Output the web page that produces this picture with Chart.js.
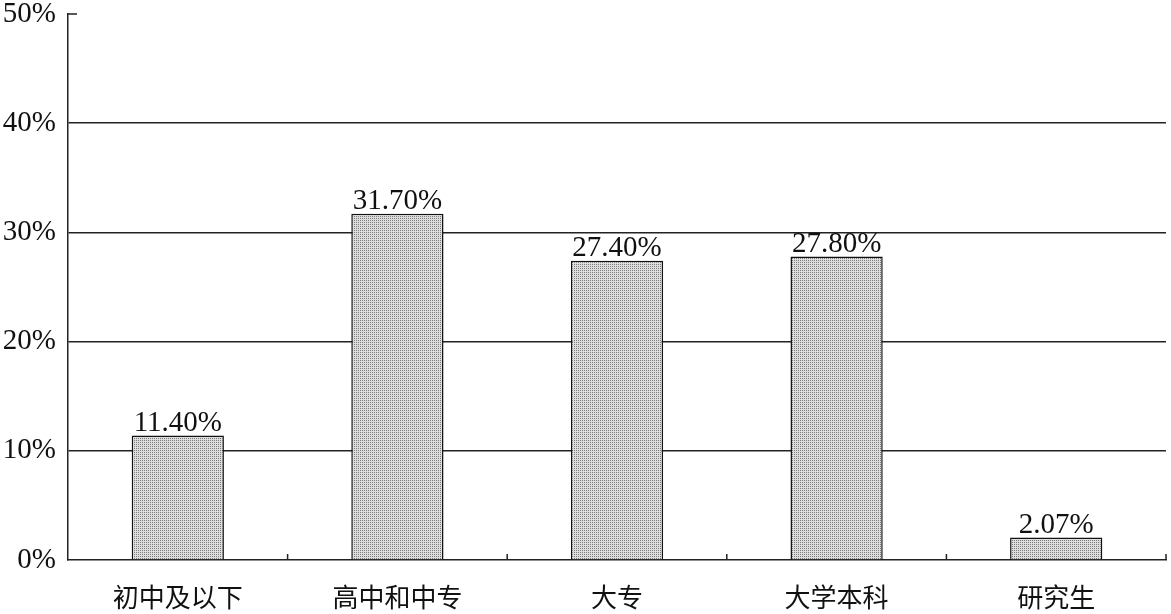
<!DOCTYPE html>
<html>
<head>
<meta charset="utf-8">
<script src="https://cdn.jsdelivr.net/npm/chart.js@4"></script>
<style>
  body { margin: 0; background: #fff; }
  #wrap { width: 1171px; height: 614px; }
</style>
</head>
<body>
<div id="wrap"><canvas id="chart" width="1171" height="614"></canvas></div>
<script>
const categories = ["初中及以下", "高中和中专", "大专", "大学本科", "研究生"];
const shares = [11.40, 31.70, 27.40, 27.80, 2.07];
const shareLabels = ["11.40%", "31.70%", "27.40%", "27.80%", "2.07%"];
const yTicks = [0, 10, 20, 30, 40, 50];

// dotted grey fill like the printed screen tone
function dotPattern(){
    const c = document.createElement("canvas");
    c.width = 2; c.height = 2;
    const g = c.getContext("2d");
    g.fillStyle = "#dedede";
    g.fillRect(0, 0, 2, 2);
    g.fillStyle = "#7a7a7a";
    g.fillRect(0, 0, 1, 1);
    return g.createPattern(c, "repeat");
}

const ctx = document.getElementById("chart").getContext("2d");

// small axis ticks: 50% tick to the right, category dividers on the baseline
const axisMarks = {
    id: "axisMarks",
    afterDraw(chart){
        const c = chart.ctx, x = chart.scales.x, y = chart.scales.y;
        const area = chart.chartArea;
        c.save();
        c.strokeStyle = "#222";
        c.lineWidth = 1.5;
        const y50 = y.getPixelForValue(50);
        c.beginPath();
        c.moveTo(area.left, y50);
        c.lineTo(area.left + 9, y50);
        const base = y.getPixelForValue(0);
        for(let i = 0; i < categories.length; i++){
            const bx = i < categories.length - 1
                ? (x.getPixelForValue(i) + x.getPixelForValue(i + 1)) / 2
                : area.right;
            c.moveTo(bx, base);
            c.lineTo(bx, base - 6);
        }
        c.stroke();
        c.restore();
    }
};

const valueLabels = {
    id: "valueLabels",
    afterDatasetsDraw(chart){
        const c = chart.ctx;
        const meta = chart.getDatasetMeta(0);
        c.save();
        c.fillStyle = "#111";
        c.font = "29px 'Liberation Serif', 'DejaVu Serif', serif";
        c.textAlign = "center";
        c.textBaseline = "bottom";
        meta.data.forEach((bar, i) => {
            c.fillText(shareLabels[i], bar.x, bar.y + 2);
        });
        c.restore();
    }
};

new Chart(ctx, {
    type: "bar",
    data: {
        labels: categories,
        datasets: [{
            data: shares,
            backgroundColor: dotPattern(),
            borderColor: "#111",
            borderWidth: 1.5,
            barPercentage: 0.42,
            categoryPercentage: 1
        }]
    },
    options: {
        responsive: false,
        animation: false,
        devicePixelRatio: 1,
        layout: { padding: { top: 14, right: 5, left: 0, bottom: 0 } },
        plugins: { legend: { display: false }, tooltip: { enabled: false } },
        scales: {
            x: {
                grid: { display: false },
                border: { display: true, color: "#222", width: 1.5 },
                ticks: {
                    color: "#111",
                    padding: 14,
                    font: { family: "'Noto Sans CJK SC', sans-serif", size: 26 }
                },
                afterFit(scale){ scale.height = 54; }
            },
            y: {
                min: 0,
                max: 50,
                afterBuildTicks(scale){ scale.ticks = yTicks.map(v => ({ value: v })); },
                grid: {
                    color: c => (c.tick && (c.tick.value === 50 || c.tick.value === 0)) ? "rgba(0,0,0,0)" : "#222",
                    lineWidth: 1.5,
                    drawTicks: false
                },
                border: { display: true, color: "#222", width: 1.5 },
                ticks: {
                    color: "#111",
                    padding: 12,
                    font: { family: "'Liberation Serif', 'DejaVu Serif', serif", size: 29 },
                    callback: v => v + "%"
                },
                afterFit(scale){ scale.width = 68; scale.paddingTop = 0; scale.paddingBottom = 0; }
            }
        }
    },
    plugins: [axisMarks, valueLabels]
});
</script>
</body>
</html>
